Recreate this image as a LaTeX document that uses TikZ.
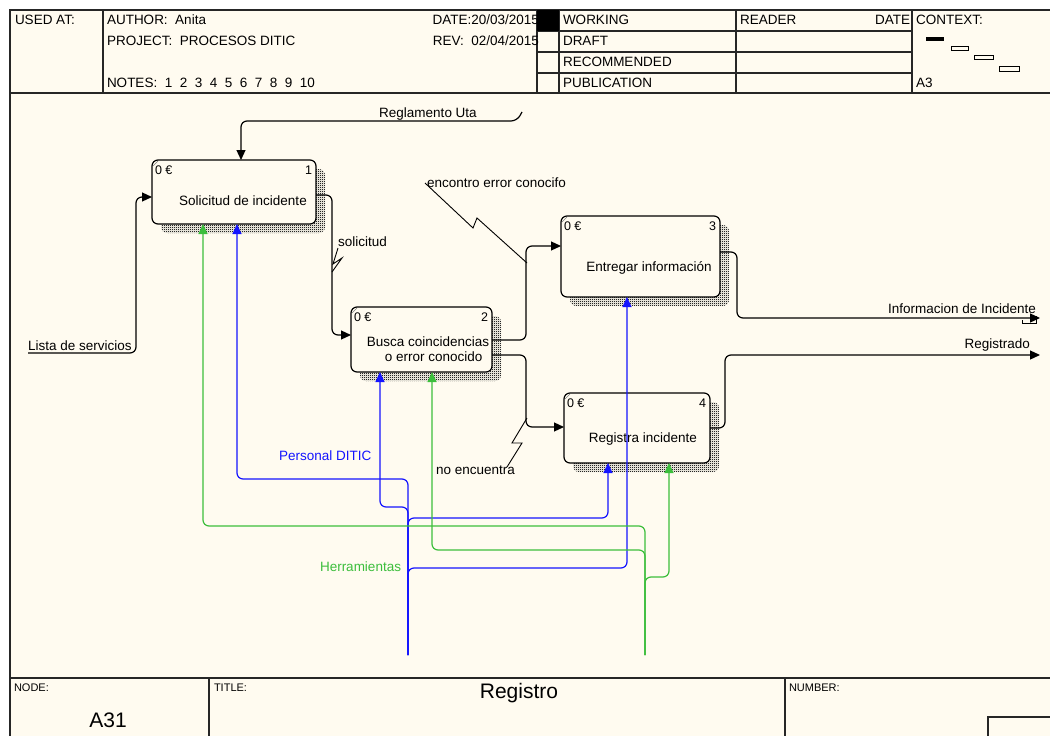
\documentclass[tikz,border=0pt]{standalone}
\usepackage{fontspec}
\setmainfont{Liberation Sans}
\usetikzlibrary{arrows.meta,patterns,backgrounds,calc}
\definecolor{cream}{RGB}{255,251,240}
\definecolor{mechblue}{RGB}{20,20,255}
\definecolor{mechgreen}{RGB}{60,190,60}
\newcommand\notegap{\hspace{7.5pt}}
% fine checker used for the box shadows
\pgfdeclarepatternformonly{dither}{\pgfpointorigin}{\pgfpoint{2pt}{2pt}}{\pgfpoint{2pt}{2pt}}{%
  \pgfpathrectangle{\pgfpointorigin}{\pgfpoint{1.2pt}{1.2pt}}%
  \pgfpathrectangle{\pgfpoint{1pt}{1pt}}{\pgfpoint{1.2pt}{1.2pt}}%
  \pgfusepath{fill}}
\begin{document}
\begin{tikzpicture}[x=1pt,y=-1pt,
  every node/.style={inner sep=0pt, outer sep=0pt, font=\fontsize{13.5}{15}\selectfont},
  frameline/.style={line width=1.3pt, draw=black!85},
  hdr/.style={anchor=west},
  smallhdr/.style={anchor=west, font=\fontsize{11}{12}\selectfont},
  actbox/.style={draw, line width=1.2pt, fill=cream, rounded corners=6pt},
  boxtext/.style={font=\fontsize{13.5}{15}\selectfont, align=center},
  corner/.style={font=\fontsize{12.5}{13}\selectfont},
  arrowline/.style={line width=1.2pt, rounded corners=6pt, -{Triangle[length=10pt,width=9pt]}},
  ctl/.style={arrowline, draw=black},
  mblue/.style={arrowline, draw=mechblue},
  mgreen/.style={arrowline, draw=mechgreen},
  squig/.style={line width=0.9pt, draw=black},
  shade/.style={pattern=dither, pattern color=black!85, rounded corners=6pt},
]
\useasboundingbox (0,0) rectangle (1050,736);

% ---------- header frame ----------
\draw[frameline] (10,736) -- (10,10) -- (1050,10);
\draw[frameline] (10,93) -- (1050,93);
\foreach \xx in {103,537,559,736,912} \draw[frameline] (\xx,10) -- (\xx,93);
\foreach \yy in {31,52,73} \draw[frameline] (537,\yy) -- (912,\yy);

\node[hdr] (usedat) at (15,20) {USED AT:};
\node[hdr] (author) at (107,20) {AUTHOR:\ \ Anita};
\node[hdr] (project) at (107,41) {PROJECT:\ \ PROCESOS DITIC};
\node[hdr] (notes) at (107,83) {NOTES:\ \ 1\notegap2\notegap3\notegap4\notegap5\notegap6\notegap7\notegap8\notegap9\notegap10};
\node[anchor=east] (date) at (539,20) {DATE:20/03/2015};
\node[anchor=east] (rev) at (539,41) {REV:\ \ 02/04/2015};
\fill[black] (537,10) rectangle (559,31);
\node[hdr] (working) at (563,20) {WORKING};
\node[hdr] (draft) at (563,41) {DRAFT};
\node[hdr] (recommended) at (563,62) {RECOMMENDED};
\node[hdr] (publication) at (563,83) {PUBLICATION};
\node[hdr] (reader) at (740,20) {READER};
\node[anchor=east] (rdate) at (910,20) {DATE};
\node[hdr] (context) at (916,20) {CONTEXT:};
\node[hdr] (ctxnode) at (916,83) {A3};
\fill[black] (926,37) rectangle (944,41);
\draw[line width=0.8pt] (951,46) rectangle (968,50);
\draw[line width=0.8pt] (974,55) rectangle (993,59);
\draw[line width=0.8pt] (999,66) rectangle (1019,71);

% ---------- footer ----------
\draw[frameline] (10,678) -- (1050,678);
\draw[frameline] (209,678) -- (209,736);
\draw[frameline] (785,678) -- (785,736);
\draw[frameline] (988,736) -- (988,717) -- (1050,717);
\node[smallhdr] (nodelbl) at (14,688) {NODE:};
\node[font=\fontsize{21}{24}\selectfont] (nodenum) at (108,720) {A31};
\node[smallhdr] (titlelbl) at (214,688) {TITLE:};
\node[font=\fontsize{21}{24}\selectfont] (title) at (519,693) {Registro};
\node[smallhdr] (numberlbl) at (789,688) {NUMBER:};

% ---------- activity boxes ----------
\node[actbox, minimum width=164pt, minimum height=64pt] (b1) at (234,192) {};
\node[actbox, minimum width=141pt, minimum height=65pt] (b2) at (421.5,339.5) {};
\node[actbox, minimum width=159pt, minimum height=81pt] (b3) at (640.5,256.5) {};
\node[actbox, minimum width=146pt, minimum height=70pt] (b4) at (637,428) {};

\foreach \b/\n in {b1/1,b2/2,b3/3,b4/4}{
  \node[corner, anchor=west] (\b cost) at ($(\b.north west)+(3,10)$) {0 €};
  \node[corner, anchor=east] (\b num) at ($(\b.north east)+(-4,10)$) {\n};
  \draw[gray, line width=0.6pt] ($(\b.north west)+(1,6)$) -- ($(\b.north west)+(6,1)$);
}
\node[boxtext] (b1txt) at (243,201) {Solicitud de incidente};
\node[boxtext] (b2txt) at (428,349.5) {Busca coincidencias\\\ \ \ o error conocido};
\node[boxtext] (b3txt) at (649,268) {Entregar información};
\node[boxtext] (b4txt) at (643,439) {Registra incidente};

% ---------- controls, inputs and outputs ----------
\coordinate (rgstart) at (522,112);
\draw[ctl] (rgstart) -- (517,121) -- (241,121) -- (241,0 |- b1.north);
\node (rglbl) at (428,114) {Reglamento Uta};

\coordinate (lsstart) at (28,353);
\draw[ctl] (lsstart) -- (136,353) -- (136,197) -- (b1.west |- 0,197);
\node[anchor=south west] (lslbl) at (28,351) {Lista de servicios};

\draw[ctl] (b1.east |- 0,195) -- (332,195) -- (332,335) -- (b2.west |- 0,335);
\node[anchor=west] (sollbl) at (338,242) {solicitud};
\draw[squig] (338,248) -- (333,264) -- (342,258) -- (332,272);

\draw[ctl] (b2.east |- 0,340) -- (526,340) -- (526,246) -- (b3.west |- 0,246);
\node[anchor=west] (enclbl) at (427,183) {encontro error conocifo};
\draw[squig] (425,183) -- (473,228) -- (477,218) -- (527,263);

\draw[ctl] (b2.east |- 0,355) -- (526,355) -- (526,427) -- (b4.west |- 0,427);
\node[anchor=west] (nolbl) at (436,470) {no encuentra};
\draw[squig] (507,467) -- (522,443) -- (512,443) -- (527,418);

\coordinate (infoend) at (1040,318);
\draw[ctl] (b3.east |- 0,252) -- (737,252) -- (737,318) -- (infoend);
\node[anchor=south east] (infolbl) at (1036,314) {Informacion de Incidente};
\draw[line width=0.9pt] (1022,320) -- (1022,323) -- (1036,323) -- (1036,316);

\coordinate (regend) at (1040,355);
\draw[ctl] (b4.east |- 0,428) -- (725,428) -- (725,355) -- (regend);
\node[anchor=south east] (reglbl) at (1030,351) {Registrado};

% ---------- mechanisms ----------
\coordinate (pdstart) at (408,655);
\draw[mblue] (pdstart) -- (408,479) -- (237,479) -- (237,0 |- b1.south);
\draw[mblue] (pdstart) -- (408,507) -- (380,507) -- (380,0 |- b2.south);
\draw[mblue] (pdstart) -- (408,518) -- (608,518) -- (608,0 |- b4.south);
\draw[mblue] (pdstart) -- (408,568) -- (627,568) -- (627,0 |- b3.south);
\node[anchor=west, text=mechblue] (pdlbl) at (279,456) {Personal DITIC};

\coordinate (hrstart) at (645,655);
\draw[mgreen] (hrstart) -- (645,526) -- (203,526) -- (203,0 |- b1.south);
\draw[mgreen] (hrstart) -- (645,550) -- (432,550) -- (432,0 |- b2.south);
\draw[mgreen] (hrstart) -- (645,577) -- (669,577) -- (669,0 |- b4.south);
\node[anchor=west, text=mechgreen] (hrlbl) at (320,567) {Herramientas};

% ---------- page and box shadows ----------
\begin{scope}[on background layer]
  \fill[white] (0,0) rectangle (1050,736);
  \fill[cream] (10,10) rectangle (1050,736);
  \foreach \b in {b1,b2,b3,b4}
    \path[shade] ($(\b.south west)+(9,9)$) rectangle ($(\b.north east)+(9,9)$);
\end{scope}
\end{tikzpicture}
\end{document}
